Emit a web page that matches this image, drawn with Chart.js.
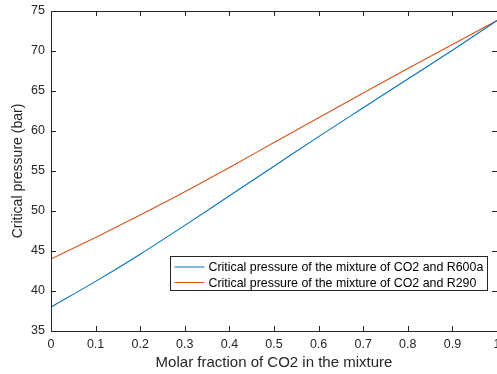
<!DOCTYPE html>
<html>
<head>
<meta charset="utf-8">
<script src="https://cdn.jsdelivr.net/npm/chart.js@4.4.0/dist/chart.umd.min.js"></script>
<style>
    html, body { margin: 0; padding: 0; background: #fff; overflow: hidden; }
    #wrap { width: 520px; height: 374px; }
</style>
</head>
<body>
<div id="wrap"><canvas id="chart" width="520" height="374"></canvas></div>
<script>
// molar fraction of CO2
const molarFraction = [0, 0.1, 0.2, 0.3, 0.4, 0.5, 0.6, 0.7, 0.8, 0.9, 1.0];
// critical pressure (bar)
const pressureR600a = [38.0, 41.2, 44.6, 48.2, 51.9, 55.6, 59.3, 62.9, 66.5, 70.1, 73.8];
const pressureR290 = [44.0, 46.7, 49.5, 52.4, 55.45, 58.55, 61.65, 64.75, 67.8, 70.8, 73.8];

const seriesLabels = [
    'Critical pressure of the mixture of CO2 and R600a',
    'Critical pressure of the mixture of CO2 and R290'
];
const seriesColors = ['#0072BD', '#D95319'];

const yTicks = [35, 40, 45, 50, 55, 60, 65, 70, 75];

const axisColor = '#262626';
const fontFamily = '"Liberation Sans", Arial, Helvetica, sans-serif';

function toPoints(values) {
    return molarFraction.map((x, i) => ({ x: x, y: values[i] }));
}

// matlab style box with inward ticks + legend in the lower right
const matlabBox = {
    id: 'matlabBox',
    afterDraw(chart) {
        const ctx = chart.ctx;
        const area = chart.chartArea;
        const xs = chart.scales.x;
        const ys = chart.scales.y;
        const tick = 5;

        ctx.save();
        ctx.strokeStyle = axisColor;
        ctx.lineWidth = 1;
        ctx.beginPath();
        ctx.rect(Math.round(area.left) + 0.5, Math.round(area.top) + 0.5,
                 Math.round(area.right - area.left), Math.round(area.bottom - area.top));
        xs.ticks.forEach(t => {
            const px = Math.round(xs.getPixelForValue(t.value)) + 0.5;
            ctx.moveTo(px, area.bottom);
            ctx.lineTo(px, area.bottom - tick);
            ctx.moveTo(px, area.top);
            ctx.lineTo(px, area.top + tick);
        });
        ys.ticks.forEach(t => {
            const py = Math.round(ys.getPixelForValue(t.value)) + 0.5;
            ctx.moveTo(area.left, py);
            ctx.lineTo(area.left + tick, py);
            ctx.moveTo(area.right, py);
            ctx.lineTo(area.right - tick, py);
        });
        ctx.stroke();

        // legend
        const lx = 170.5, ly = 256.5, lw = 317, lh = 34;
        ctx.fillStyle = '#fff';
        ctx.fillRect(lx, ly, lw, lh);
        ctx.strokeStyle = axisColor;
        ctx.strokeRect(lx, ly, lw, lh);
        ctx.font = '12.4px ' + fontFamily;
        ctx.textBaseline = 'middle';
        chart.data.datasets.forEach((ds, i) => {
            const yy = ly + 10.5 + i * 15.5;
            ctx.strokeStyle = ds.borderColor;
            ctx.beginPath();
            ctx.moveTo(lx + 4, yy);
            ctx.lineTo(lx + 34, yy);
            ctx.stroke();
            ctx.fillStyle = '#000';
            ctx.fillText(ds.label, lx + 38, yy + 1);
        });
        ctx.restore();
    }
};

const chart = new Chart(document.getElementById('chart'), {
    type: 'line',
    data: {
        datasets: [
            {
                label: seriesLabels[0],
                data: toPoints(pressureR600a),
                borderColor: seriesColors[0],
                borderWidth: 1.1,
                pointRadius: 0,
                cubicInterpolationMode: 'monotone',
                fill: false
            },
            {
                label: seriesLabels[1],
                data: toPoints(pressureR290),
                borderColor: seriesColors[1],
                borderWidth: 1.1,
                pointRadius: 0,
                cubicInterpolationMode: 'monotone',
                fill: false
            }
        ]
    },
    options: {
        responsive: false,
        animation: false,
        layout: { padding: { top: 11, right: 23, left: 0, bottom: 0 } },
        plugins: {
            legend: { display: false },
            tooltip: { enabled: false }
        },
        scales: {
            x: {
                type: 'linear',
                min: 0,
                max: 1,
                grid: { display: false, drawTicks: false },
                border: { display: false },
                ticks: {
                    stepSize: 0.1,
                    maxRotation: 0,
                    padding: 6,
                    color: axisColor,
                    font: { family: fontFamily, size: 12.5 },
                    callback: v => String(Math.round(v * 10) / 10)
                },
                title: {
                    display: true,
                    text: 'Molar fraction of CO2 in the mixture',
                    color: axisColor,
                    font: { family: fontFamily, size: 15 },
                    padding: { top: 0, bottom: 2 }
                },
                afterFit: s => { s.height = 43; s.paddingLeft = 0; s.paddingRight = 0; }
            },
            y: {
                min: 35,
                max: 75,
                grid: { display: false, drawTicks: false },
                border: { display: false },
                afterBuildTicks: s => { s.ticks = yTicks.map(v => ({ value: v })); },
                ticks: {
                    padding: 6,
                    color: axisColor,
                    font: { family: fontFamily, size: 12.5 }
                },
                title: {
                    display: true,
                    text: 'Critical pressure (bar)',
                    color: axisColor,
                    font: { family: fontFamily, size: 14 },
                    padding: { top: 10, bottom: 0 }
                },
                afterFit: s => { s.width = 51; s.paddingTop = 0; s.paddingBottom = 0; }
            }
        }
    },
    plugins: [matlabBox]
});
</script>
</body>
</html>
